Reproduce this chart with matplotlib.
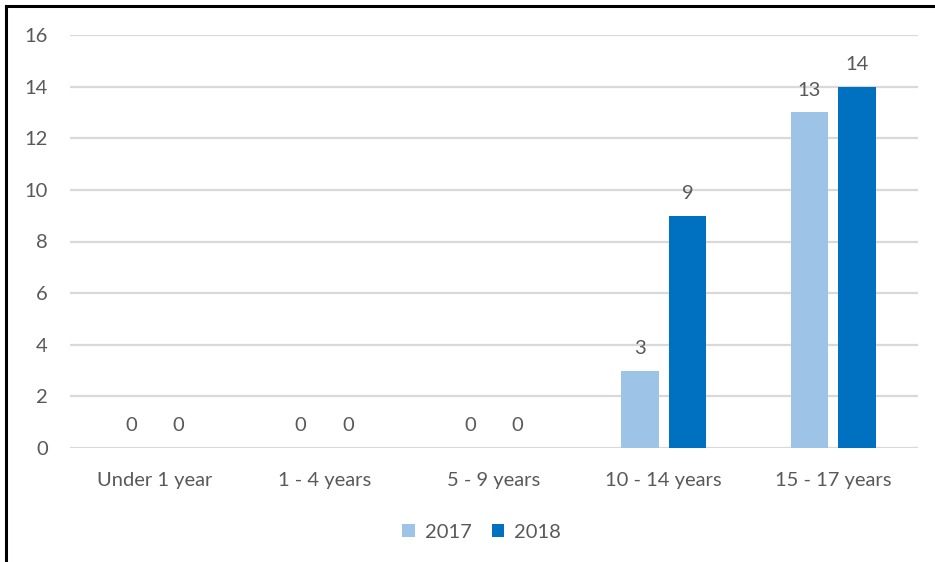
import matplotlib
matplotlib.use("Agg")
import matplotlib.pyplot as plt
from matplotlib.lines import Line2D
import numpy as np

categories = ["Under 1 year", "1 - 4 years", "5 - 9 years", "10 - 14 years", "15 - 17 years"]
values_2017 = [0, 0, 0, 3, 13]
values_2018 = [0, 0, 0, 9, 14]
series_labels = ["2017", "2018"]
y_ticks = [0, 2, 4, 6, 8, 10, 12, 14, 16]

c2017 = "#9DC3E6"
c2018 = "#0070C0"
text_col = "#595959"
grid_col = "#D9D9D9"
fs = 14.5

plt.rcParams['font.family'] = ['Lato', 'DejaVu Sans']

fig = plt.figure(figsize=(9.35, 5.62), dpi=100)
ax = fig.add_axes([70/935, 1-448/562, 848/935, 413/562])

x = np.arange(len(categories))
w = 0.22
off = 0.14
b1 = ax.bar(x - off, values_2017, w, color=c2017, label=series_labels[0], zorder=3)
b2 = ax.bar(x + off, values_2018, w, color=c2018, label=series_labels[1], zorder=3)

for bars, vals in ((b1, values_2017), (b2, values_2018)):
    for rect, v in zip(bars, vals):
        ax.annotate(str(v), (rect.get_x() + rect.get_width()/2, v),
                    xytext=(0, 10), textcoords="offset points",
                    ha="center", va="bottom", fontsize=fs, color=text_col)

ax.set_xlim(-0.5, len(categories) - 0.5)
ax.set_ylim(0, 16)
ax.set_yticks(y_ticks)
ax.set_xticks(x)
ax.set_xticklabels(categories)
ax.tick_params(axis="both", length=0, labelsize=fs, labelcolor=text_col)
ax.tick_params(axis="x", pad=17)
ax.tick_params(axis="y", pad=16)
ax.yaxis.grid(True, color=grid_col, linewidth=1.6, zorder=0)
ax.set_axisbelow(True)
for s in ax.spines.values():
    s.set_visible(False)

leg = fig.legend(handles=[b1, b2], labels=series_labels, loc="center",
                 bbox_to_anchor=(0.515, 1-532/562), ncol=2, frameon=False,
                 fontsize=fs, handlelength=0.6, handleheight=0.6,
                 handletextpad=0.5, columnspacing=1.0)
for t in leg.get_texts():
    t.set_color(text_col)

# outer frame (left and top black border)
fig.add_artist(Line2D([6/935, 6/935], [0, 1-6/562], color="black", linewidth=2.2, transform=fig.transFigure))
fig.add_artist(Line2D([6/935, 1], [1-6/562, 1-6/562], color="black", linewidth=2.2, transform=fig.transFigure))

fig.savefig("out.png", dpi=100)
